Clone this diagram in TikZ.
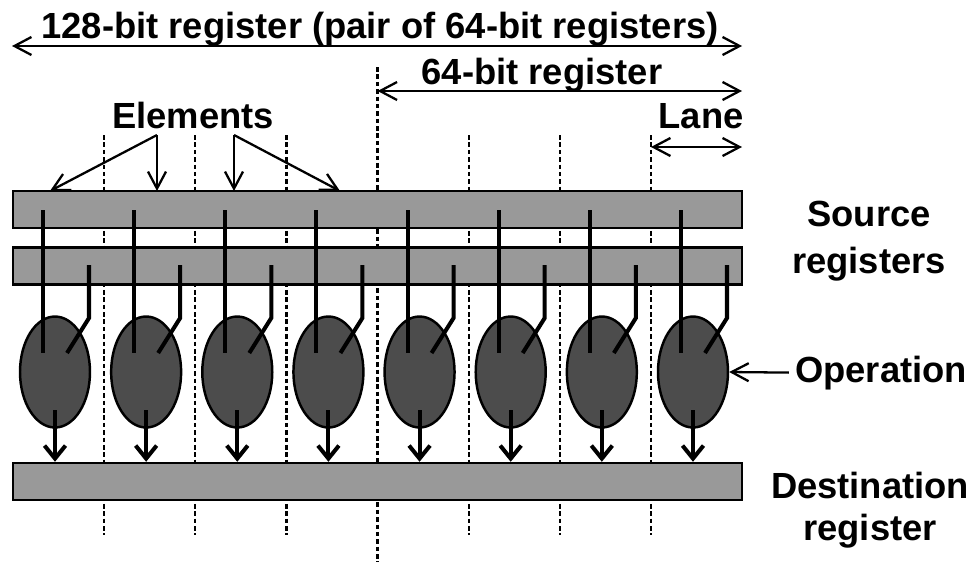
\documentclass[tikz,border=0pt]{standalone}
\usepackage{fontspec}
\setmainfont{Liberation Sans}
\usetikzlibrary{shapes.geometric,arrows.meta}

\tikzset{
  reg/.style={draw, line width=1.4pt, fill=black!40, minimum width=14.58cm, minimum height=0.74cm, inner sep=0pt},
  op/.style={ellipse, draw, line width=1.4pt, fill=black!70, minimum width=1.4cm, minimum height=2.22cm, inner sep=0pt},
  lanesep/.style={line width=1.3pt, dash pattern=on 2.6pt off 1.6pt},
  dim/.style={line width=1.3pt},
  wire/.style={line width=2.3pt},
}

\begin{document}
\begin{tikzpicture}[x=0.02cm, y=-0.02cm, font=\fontsize{20.7}{24.8}\selectfont\bfseries,
    >={Straight Barb[length=3.4mm,width=3.6mm]}]
  \useasboundingbox (0,0) rectangle (973,562);

  % lane boundaries
  \foreach \k in {1,2,3,5,6,7}
    \draw[lanesep] ({13+91.14*\k},135) -- ({13+91.14*\k},535);
  \draw[lanesep] (377.6,67) -- (377.6,562);

  % registers
  \node (src1) at (377.5,209.5) [reg] {};
  \node (src2) at (377.5,266) [reg] {};
  \node (dst) at (377.5,481.5) [reg] {};

  % widths
  \node (wide) at (380,38) [anchor=base] {128-bit register (pair of 64-bit registers)};
  \node (half) at (542,84) [anchor=base] {64-bit register};
  \node (lane) at (701,128) [anchor=base] {Lane};
  \coordinate (w1) at (12,46);   \coordinate (w2) at (742,46);
  \coordinate (h1) at (377.6,91); \coordinate (h2) at (742,91);
  \coordinate (l1) at (651,147); \coordinate (l2) at (742,147);
  \draw[dim,<->] (w1) -- (w2);
  \draw[dim,<->] (h1) -- (h2);
  \draw[dim,<->] (l1) -- (l2);

  % elements
  \node (elem) at (193,128) [anchor=base] {Elements};
  \coordinate (e1) at (157,135); \coordinate (e2) at (234,135);
  \coordinate (t1) at (50,191);  \coordinate (t2) at (157,191);
  \coordinate (t3) at (234,191); \coordinate (t4) at (340,191);
  \draw[dim,->] (e1) -- (t1);
  \draw[dim,->] (e1) -- (t2);
  \draw[dim,->] (e2) -- (t3);
  \draw[dim,->] (e2) -- (t4);

  % one operation per lane
  \foreach \i in {1,...,8} {
    \pgfmathsetmacro\lx{13+91.14*(\i-1)}
    \node (op\i) at (\lx+42,372) [op] {};
    \coordinate (a\i) at (\lx+30,210);
    \coordinate (b\i) at (\lx+76,265);
    \coordinate (c\i) at (\lx+54,353);
    \draw[wire] (a\i) -- (\lx+30,353);
    \draw[wire] (b\i) -- (\lx+76,318) -- (c\i);
    \draw[wire,-{Straight Barb[length=2.6mm,width=4.2mm]}] (\lx+42,410) -- (dst.north -| op\i);
  }

  % side labels
  \node (srclbl) at (869,241) [align=center] {Source\\[2pt]registers};
  \node (oplbl) at (881,382) [anchor=base] {Operation};
  \node (dstlbl) at (870,510) [align=center] {Destination\\[-1pt]register};
  \draw[dim,->] (oplbl.west) -- (op8.east);
\end{tikzpicture}
\end{document}
